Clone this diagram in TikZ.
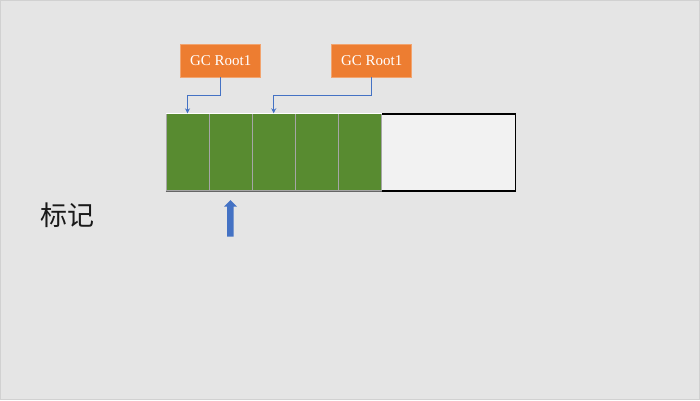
\documentclass[tikz,border=0pt]{standalone}
\usepackage{fontspec}
\setmainfont{Liberation Serif}
\newfontfamily\cjk{Noto Sans CJK SC}
\usetikzlibrary{arrows.meta}
\definecolor{bgc}{HTML}{E5E5E5}
\definecolor{rootc}{HTML}{ED7D31}
\definecolor{cellc}{RGB}{88,139,48}
\definecolor{linkc}{HTML}{4472C4}
\definecolor{freec}{HTML}{F2F2F2}
\definecolor{sepc}{HTML}{A6A6A6}
\tikzset{
  rootbox/.style={fill=rootc, draw=rootc!70!white, line width=0.5pt, text=white,
    minimum width=80pt, minimum height=32.7pt, inner sep=0pt,
    font=\fontsize{15}{17}\selectfont},
  cellbox/.style={fill=cellc, draw=sepc, line width=0.7pt, anchor=north west,
    minimum width=43.1pt, minimum height=77pt, inner sep=0pt},
  freebox/.style={fill=freec, draw=black, line width=1.3pt, anchor=north west,
    minimum width=133.5pt, minimum height=77pt, inner sep=0pt},
  link/.style={draw=linkc, line width=0.8pt, -{Stealth[length=5pt,width=5pt]}},
}
\begin{document}
\begin{tikzpicture}[x=1pt,y=-1pt]
\useasboundingbox (0,0) rectangle (700,400);
\fill[bgc] (0,0) rectangle (700,400);
\draw[draw=black!18, line width=0.6pt] (0.5,0.5) rectangle (699.5,399.5);
% memory bar
\node[freebox] (free) at (381,113.3) {};
\node[cellbox] (c1) at (165.6,113.3) {};
\node[cellbox] (c2) at (208.7,113.3) {};
\node[cellbox] (c3) at (251.8,113.3) {};
\node[cellbox] (c4) at (294.9,113.3) {};
\node[cellbox] (c5) at (338.0,113.3) {};
\draw[white, line width=0.8pt] (c1.north west) -- (c5.north east);
\draw[black!60, line width=0.8pt] (c1.south west) -- (c5.south east);
% roots
\node[rootbox] (r1) at (220.7,60.4) {GC Root1};
\node[rootbox] (r2) at (371.7,60.4) {GC Root1};
\draw[link] (r1.south) -- ++(0,-18.3pt) -| (c1.north);
\draw[link] (r2.south) -- ++(0,-18.3pt) -| (c3.north);
% pointer arrow
\fill[linkc] (227,236.7) -- (227,206.7) -- (224,206.7) -- (230.5,200) -- (237,206.7) -- (233.7,206.7) -- (233.7,236.7) -- cycle;
% label
\node[font=\cjk\fontsize{27}{30}\selectfont, text=black!90, inner sep=0pt] (mark) at (67,215.5) {标记};
\end{tikzpicture}
\end{document}
